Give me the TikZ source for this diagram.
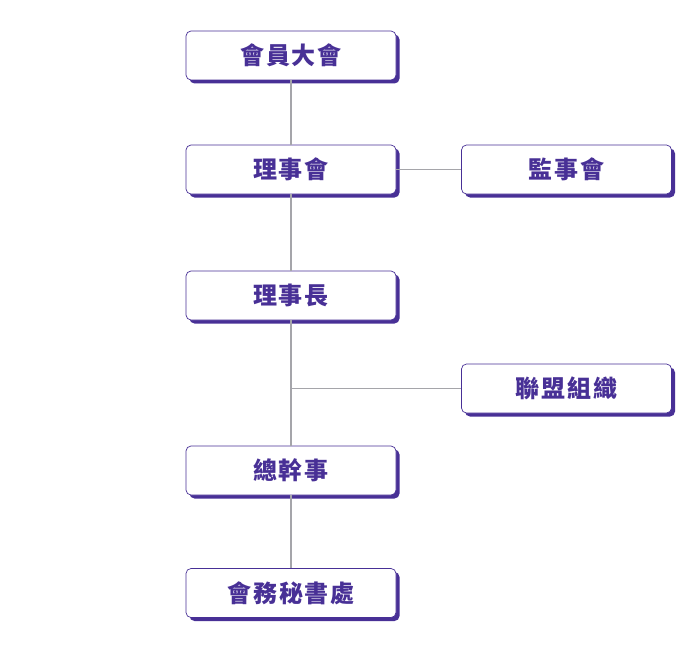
\documentclass[tikz,border=0pt]{standalone}
\usepackage{fontspec}
\newfontfamily\cjk[LetterSpace=8]{Noto Sans CJK TC}
\usetikzlibrary{shadows}
\definecolor{ColA}{RGB}{72,48,150}
\definecolor{ColB}{RGB}{165,165,170}
\tikzstyle{OrgBox}=[rectangle,rounded corners=5pt,draw=ColA,fill=white,line width=0.7pt,
minimum width=210pt,minimum height=49pt,text=ColA,font=\cjk\bfseries\fontsize{24}{24}\selectfont,
drop shadow={shadow xshift=3.5pt,shadow yshift=-3.5pt,fill=ColA,opacity=1}]
\tikzstyle{OrgLine}=[ColB,line width=1.1pt]

\begin{document}
\begin{tikzpicture}[x=1pt,y=-1pt]
        \useasboundingbox (0,0) rectangle (700,650);
        \node[OrgBox](mg)at(291,55.5){會員大會};
        \node[OrgBox](bd)at(291,169.5){理事會};
        \node[OrgBox](sv)at(566.5,169.5){監事會};
        \node[OrgBox](ch)at(291,295.5){理事長};
        \node[OrgBox](lm)at(566.5,388.5){聯盟組織};
        \node[OrgBox](gm)at(291,470.5){總幹事};
        \node[OrgBox](sc)at(291,593){會務秘書處};
        \coordinate(br)at(291,388.5);
        \draw[OrgLine](mg.south)--(bd.north);
        \draw[OrgLine](bd.east)--(sv.west);
        \draw[OrgLine](bd.south)--(ch.north);
        \draw[OrgLine](ch.south)--(gm.north);
        \draw[OrgLine](br)--(lm.west);
        \draw[OrgLine](gm.south)--(sc.north);
    \end{tikzpicture}
\end{document}
